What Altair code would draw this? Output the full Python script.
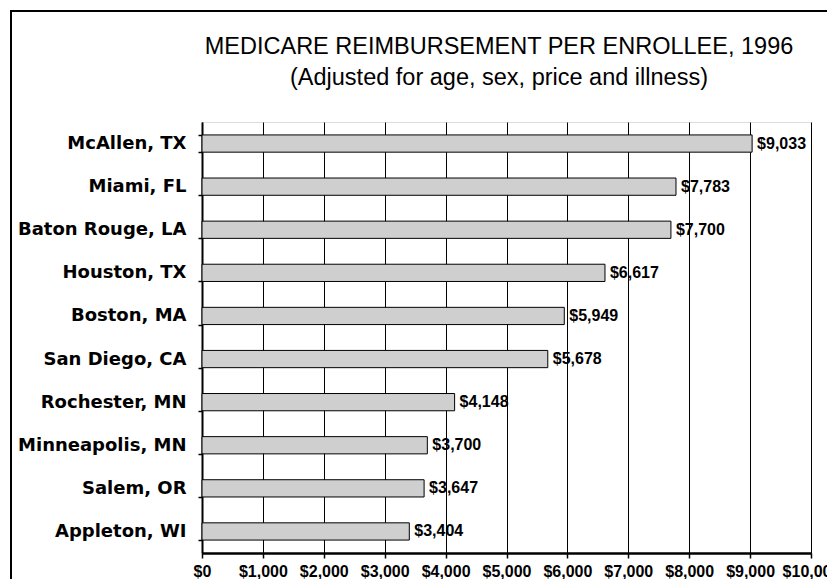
import altair as alt
import pandas as pd

cities = ["McAllen, TX", "Miami, FL", "Baton Rouge, LA", "Houston, TX", "Boston, MA",
          "San Diego, CA", "Rochester, MN", "Minneapolis, MN", "Salem, OR", "Appleton, WI"]
values = [9033, 7783, 7700, 6617, 5949, 5678, 4148, 3700, 3647, 3404]
x_ticks = [0, 1000, 2000, 3000, 4000, 5000, 6000, 7000, 8000, 9000, 10000]
title_line1 = "MEDICARE REIMBURSEMENT PER ENROLLEE, 1996"
title_line2 = "(Adjusted for age, sex, price and illness)"

df = pd.DataFrame({"city": cities, "value": values})

W, H = 609, 431

y_enc = alt.Y("city:N", sort=cities, title=None,
              scale=alt.Scale(paddingInner=0.6, paddingOuter=0.3),
              axis=alt.Axis(labelFont="DejaVu Sans", labelFontSize=18, labelFontWeight="bold",
                            labelColor="black", tickBand="extent", tickSize=4, tickColor="black",
                            tickWidth=1.5, domainColor="black", domainWidth=2, labelPadding=12,
                            grid=False))
x_enc = alt.X("value:Q", title=None,
              scale=alt.Scale(domain=[0, 10000], nice=False),
              axis=alt.Axis(values=x_ticks, format="$,.0f", labelFont="Liberation Sans",
                            labelFontSize=16, labelFontWeight="bold", labelColor="black",
                            labelBaseline="alphabetic", labelPadding=18,
                            tickSize=5, tickColor="black", tickWidth=1.5,
                            domainColor="black", domainWidth=2.5, gridColor="black", gridOpacity=1,
                            gridWidth=1, labelOverlap=False, labelFlush=False))

bars = alt.Chart(df).mark_bar(fill="#cfcfcf", stroke="black", strokeWidth=1).encode(y=y_enc, x=x_enc)

labels = alt.Chart(df).mark_text(align="left", baseline="middle", dx=5, font="Liberation Sans",
                                 fontSize=16, fontWeight="bold", color="black").encode(
    y=alt.Y("city:N", sort=cities), x=alt.X("value:Q"),
    text=alt.Text("value:Q", format="$,.0f"))

frame = alt.Chart(pd.DataFrame({"k": [0]})).mark_rect(
    fill="transparent", stroke="black", strokeWidth=2).encode(
    x=alt.value(-191), x2=alt.value(W + 60), y=alt.value(-111), y2=alt.value(H + 80))

t1 = alt.Chart(pd.DataFrame({"t": [title_line1]})).mark_text(
    font="Liberation Sans", fontSize=23.5, color="black", align="center", baseline="alphabetic").encode(
    text="t:N", x=alt.value(297), y=alt.value(-68))
t2 = alt.Chart(pd.DataFrame({"t": [title_line2]})).mark_text(
    font="Liberation Sans", fontSize=23.5, color="black", align="center", baseline="alphabetic").encode(
    text="t:N", x=alt.value(297), y=alt.value(-37))

chart = alt.layer(frame, bars, labels, t1, t2).properties(
    width=W, height=H,
    autosize=alt.AutoSizeParams(type="none"),
    padding={"left": 194, "top": 114, "right": 16, "bottom": 26},
).configure_view(stroke="black", strokeWidth=2).configure(background="white")

chart.save("out.html", embed_options={"renderer": "svg", "actions": False})
